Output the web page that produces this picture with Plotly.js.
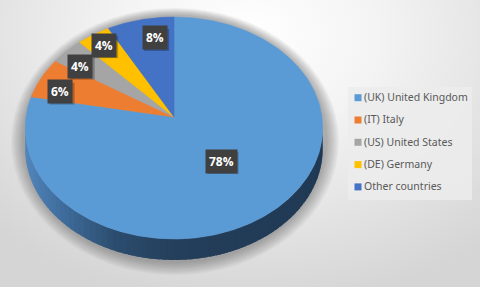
<!DOCTYPE html>
<html>
<head>
<meta charset="utf-8">
<script src="https://cdn.plot.ly/plotly-3.0.1.min.js"></script>
<style>
  html, body { margin: 0; padding: 0; }
  body {
    width: 480px; height: 287px; overflow: hidden;
    background: radial-gradient(ellipse 75% 95% at 52% 12%, #ffffff 0%, #f4f4f4 35%, #d5d5d5 100%);
  }
  #chart { width: 480px; height: 287px; }
</style>
</head>
<body>
<div id="chart"></div>
<script>
// Market share by country
const countries = ['(UK) United Kingdom', '(IT) Italy', '(US) United States', '(DE) Germany', 'Other countries'];
const shares = [78, 6, 4, 4, 8];
const sliceColors = ['#5B9BD5', '#ED7D31', '#A5A5A5', '#FFC000', '#4472C4'];

// Pie geometry in pixel units (axes map 1:1 onto the canvas)
const CX = 174, CY = 117;          // centre of the pie top
const RX = 148, RY = 109.9;        // radii of the tilted disc
const PERSP = 0.099;               // far side shrinks a little
const DEPTH = 21;                  // thickness of the disc
const LABEL_R = [0.5, 0.8, 0.8, 0.8, 0.8];
const LABEL_NUDGE = [[-2, 0], [-7, 6], [-7, 3], [-5, -5], [8, 0]];

// angle measured clockwise from 12 o'clock, r as a fraction of the radius
function project(theta, r) {
  const u = r * Math.sin(theta), v = r * Math.cos(theta);
  const d = 1 + PERSP * v;
  return [CX + RX * u / d, CY - RY * v / d];
}

const total = shares.reduce((a, b) => a + b, 0);
const traces = [];
const annotations = [];
const shapes = [];

// soft shadow under the disc
for (let i = 0; i < 12; i++) {
  const g = i * 1.1;
  shapes.push({
    type: 'circle', xref: 'x', yref: 'y', layer: 'below',
    x0: CX - RX - 3 - g, x1: CX + RX + 5 + g,
    y0: CY - RY + 8 - g * 0.6, y1: CY + RY / (1 - PERSP) + DEPTH + 3 + g,
    fillcolor: 'rgba(60,60,60,0.035)', line: { width: 0 }
  });
}

// side wall of the disc, lit from the left and darkening to the right
function mix(t) {
  const stops = [[0, [82, 134, 188]], [0.12, [63, 109, 157]], [0.3, [44, 77, 111]], [0.5, [36, 63, 91]], [1, [32, 57, 84]]];
  for (let i = 1; i < stops.length; i++) {
    if (t <= stops[i][0]) {
      const [t0, c0] = stops[i - 1], [t1, c1] = stops[i];
      const f = (t - t0) / (t1 - t0);
      return 'rgb(' + c0.map((c, k) => Math.round(c + (c1[k] - c) * f)).join(',') + ')';
    }
  }
  return 'rgb(32,57,84)';
}
const thR = Math.acos(-PERSP), thL = 2 * Math.PI - thR;
const xMin = project(thL, 1)[0], xMax = project(thR, 1)[0];
const strips = 70;
const stepA = (thL - thR) / strips;
for (let i = 0; i < strips; i++) {
  const a0 = thR + stepA * i;
  const a1 = Math.min(thL, a0 + stepA * 1.8);   // overlap the next strip to hide seams
  const xs = [], ys = [];
  const n = 4;
  for (let j = 0; j <= n; j++) { const p = project(a0 + (a1 - a0) * j / n, 1); xs.push(p[0]); ys.push(p[1]); }
  for (let j = n; j >= 0; j--) { const p = project(a0 + (a1 - a0) * j / n, 1); xs.push(p[0]); ys.push(p[1] + DEPTH); }
  const midX = project(a0 + stepA / 2, 1)[0];
  const col = mix((midX - xMin) / (xMax - xMin));
  traces.push({
    type: 'scatter', mode: 'lines', x: xs, y: ys, fill: 'toself',
    fillcolor: col, line: { color: col, width: 0 }, hoverinfo: 'skip', showlegend: false
  });
}

// top face slices with their percentage labels
let acc = 0;
shares.forEach((v, i) => {
  const a0 = acc / total * 2 * Math.PI;
  acc += v;
  const a1 = acc / total * 2 * Math.PI;
  const xs = [CX], ys = [CY];
  const n = Math.max(6, Math.ceil((a1 - a0) / 0.01));
  for (let j = 0; j <= n; j++) { const p = project(a0 + (a1 - a0) * j / n, 1); xs.push(p[0]); ys.push(p[1]); }
  xs.push(CX); ys.push(CY);
  traces.push({
    type: 'scatter', mode: 'lines', x: xs, y: ys, fill: 'toself', name: countries[i],
    fillcolor: sliceColors[i], line: { color: sliceColors[i], width: 0.6 },
    hoverinfo: 'name', showlegend: false
  });

  const lp = project((a0 + a1) / 2, LABEL_R[i]);
  const lx = lp[0] + LABEL_NUDGE[i][0], ly = lp[1] + LABEL_NUDGE[i][1];
  const txt = Math.round(v / total * 100) + '%';
  // drop shadow behind the label box
  const hw = (13 + 6 * txt.length) / 2, hh = 11;
  shapes.push({
    type: 'rect', xref: 'x', yref: 'y', layer: 'above',
    x0: lx - hw + 2, x1: lx + hw + 2, y0: ly - hh + 2, y1: ly + hh + 2,
    fillcolor: 'rgba(0,0,0,0.25)', line: { width: 0 }
  });
  annotations.push({
    x: lx, y: ly, xref: 'x', yref: 'y', showarrow: false, text: txt,
    font: { family: 'Open Sans, sans-serif', size: 12, weight: 'bold', color: '#ffffff' },
    bgcolor: '#404040', borderpad: 3
  });
});

// legend entries (keys are drawn as small squares inside the panel)
countries.forEach((c, i) => {
  traces.push({
    type: 'scatter', mode: 'markers', x: [null], y: [null], name: c, legendgroup: 'g' + i,
    marker: { symbol: 'square', size: 7, color: 'rgba(0,0,0,0)', line: { width: 0 } }, showlegend: true
  });
});

// legend panel and its colour keys
shapes.push({
  type: 'rect', xref: 'x', yref: 'y', layer: 'below', x0: 348, x1: 472, y0: 87, y1: 200,
  fillcolor: 'rgba(236,236,236,0.85)', line: { width: 0 }
});
const KEY_Y0 = 97.7, KEY_STEP = 22.3;
sliceColors.forEach((c, i) => {
  shapes.push({
    type: 'rect', xref: 'x', yref: 'y', layer: 'above',
    x0: 354.5, x1: 361.5, y0: KEY_Y0 + KEY_STEP * i - 3.5, y1: KEY_Y0 + KEY_STEP * i + 3.5,
    fillcolor: c, line: { width: 0 }
  });
});

const layout = {
  width: 480, height: 287,
  margin: { l: 0, r: 0, t: 0, b: 0 },
  paper_bgcolor: 'rgba(0,0,0,0)', plot_bgcolor: 'rgba(0,0,0,0)',
  xaxis: { range: [0, 480], visible: false, fixedrange: true },
  yaxis: { range: [287, 0], visible: false, fixedrange: true },
  showlegend: true,
  legend: {
    x: 324 / 480, xanchor: 'left', y: 1 - 82.5 / 287, yanchor: 'top',
    bgcolor: 'rgba(0,0,0,0)', tracegroupgap: 3.3,
    font: { family: 'Noto Sans, sans-serif', size: 10.5, color: '#595959' },
    itemclick: false, itemdoubleclick: false
  },
  shapes: shapes,
  annotations: annotations
};

Plotly.newPlot('chart', traces, layout, { displayModeBar: false, staticPlot: true });
</script>
</body>
</html>
